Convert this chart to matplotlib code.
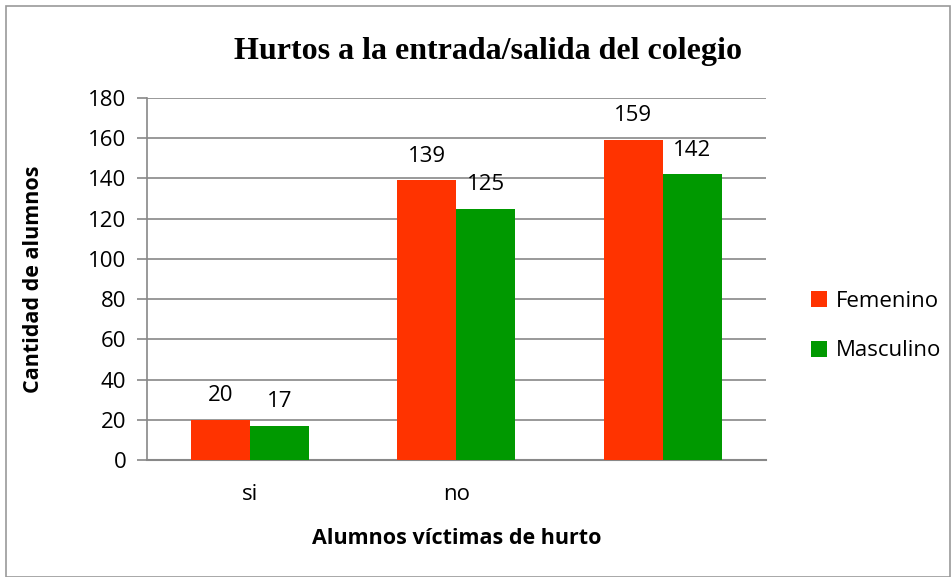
import numpy as np
import matplotlib.pyplot as plt
from matplotlib.patches import Rectangle

categorias = ['si', 'no', '']
femenino = [20, 139, 159]
masculino = [17, 125, 142]
yticks = [0, 20, 40, 60, 80, 100, 120, 140, 160, 180]

rojo = '#FF3300'
verde = '#009900'
gris = '#888888'
sans = ['Open Sans', 'DejaVu Sans']

fig = plt.figure(figsize=(9.52, 5.77), dpi=100)
fig.patches.append(Rectangle((0.006, 0.0), 0.992, 0.99, transform=fig.transFigure,
                             fill=False, edgecolor='#999999', linewidth=1.2))
ax = fig.add_axes([0.1544, 0.2028, 0.650, 0.6274])

x = np.arange(len(categorias))
w = 0.286
b1 = ax.bar(x - w / 2, femenino, w, color=rojo, label='Femenino', zorder=3)
b2 = ax.bar(x + w / 2, masculino, w, color=verde, label='Masculino', zorder=3)

for bars in (b1, b2):
    for r in bars:
        ax.annotate(str(int(r.get_height())), (r.get_x() + r.get_width() / 2, r.get_height()),
                    xytext=(0, 10), textcoords='offset points', ha='center', va='bottom',
                    fontsize=16, family=sans, color='black')

ax.set_xlim(-0.5, 2.5)
ax.set_ylim(0, 180)
ax.set_yticks(yticks)
ax.set_xticks(x)
ax.set_xticklabels(categorias, family=sans, fontsize=16)
ax.tick_params(axis='x', length=0, pad=17)
ax.tick_params(axis='y', length=7, width=1.2, color=gris, labelsize=16, pad=8)
for lab in ax.get_yticklabels():
    lab.set_family(sans)
ax.yaxis.grid(True, color=gris, linewidth=1.2, zorder=0)
for s in ['top', 'right']:
    ax.spines[s].set_visible(False)
ax.spines['left'].set_color(gris)
ax.spines['left'].set_linewidth(1.2)
ax.spines['bottom'].set_color(gris)
ax.spines['bottom'].set_linewidth(1.5)

ax.set_xlabel('Alumnos víctimas de hurto', fontsize=15.5, fontweight='bold', family=sans, labelpad=17)
ax.set_ylabel('Cantidad de alumnos', fontsize=15.5, fontweight='bold', family=sans)
ax.yaxis.set_label_coords(-0.167, 0.5)

fig.text(0.513, 0.91, 'Hurtos a la entrada/salida del colegio', ha='center', va='center',
         fontsize=23, fontweight='bold', family=['Liberation Serif', 'DejaVu Serif'])

leg = ax.legend(loc='center left', bbox_to_anchor=(1.04, 0.37), frameon=False,
                prop={'family': sans, 'size': 16}, handlelength=0.75, handleheight=0.75,
                labelspacing=1.3, handletextpad=0.4)

fig.savefig('out.png', dpi=100)
